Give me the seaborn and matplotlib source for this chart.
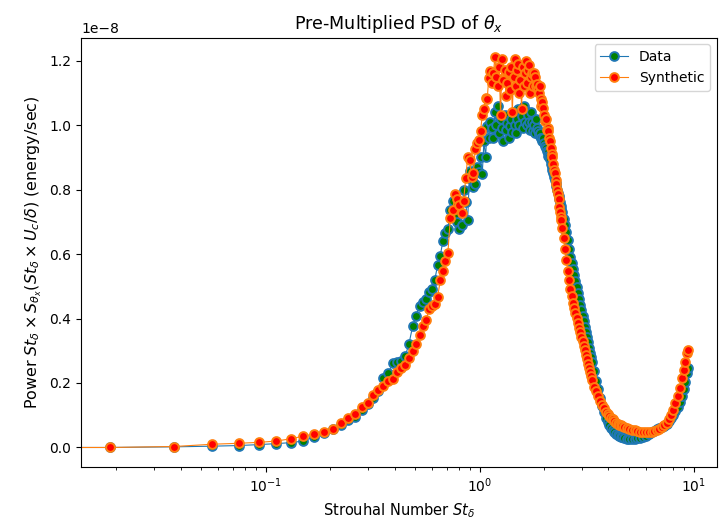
import numpy as np
import pandas as pd
import matplotlib
matplotlib.use("Agg")
import matplotlib.pyplot as plt
import seaborn as sns

# Strouhal numbers (frequency grid, subsampled at high St); first bin is St = 0
st = [0.0, 0.0187, 0.0374, 0.0561, 0.0748, 0.0935, 0.1122, 0.1309, 0.1496, 0.1683, 0.187,
      0.2057, 0.2244, 0.2431, 0.2618, 0.2805, 0.2992, 0.3179, 0.3366, 0.3553, 0.374,
      0.3927, 0.4114, 0.4301, 0.4488, 0.4675, 0.4862, 0.5049, 0.5236, 0.5423, 0.561,
      0.5797, 0.5984, 0.6171, 0.6358, 0.6545, 0.6732, 0.6919, 0.7106, 0.7293, 0.748,
      0.7667, 0.7854, 0.8041, 0.8228, 0.8415, 0.8602, 0.8789, 0.8976, 0.9163, 0.935,
      0.9537, 0.9724, 0.9911, 1.0098, 1.0285, 1.0472, 1.0659, 1.0846, 1.1033, 1.122,
      1.1407, 1.1594, 1.1781, 1.1968, 1.2155, 1.2342, 1.2529, 1.2716, 1.2903, 1.309,
      1.3277, 1.3464, 1.3651, 1.3838, 1.4025, 1.4212, 1.4399, 1.4586, 1.4773, 1.496,
      1.5147, 1.5334, 1.5521, 1.5708, 1.5895, 1.6082, 1.6269, 1.6456, 1.6643, 1.683,
      1.7017, 1.7204, 1.7391, 1.7578, 1.7765, 1.7952, 1.8139, 1.8326, 1.8513, 1.87,
      1.8887, 1.9074, 1.9261, 1.9448, 1.9635, 1.9822, 2.0009, 2.0196, 2.0383, 2.057,
      2.0757, 2.0944, 2.1131, 2.1318, 2.1505, 2.1692, 2.1879, 2.2066, 2.2253, 2.244,
      2.2627, 2.2814, 2.3001, 2.3188, 2.3375, 2.3562, 2.3749, 2.3936, 2.4123,
      2.431, 2.4684, 2.5058, 2.5432, 2.5806, 2.618, 2.6554, 2.6928, 2.7302, 2.7676,
      2.805, 2.8424, 2.8798, 2.9172, 2.9546, 2.992, 3.0294, 3.0668, 3.1042, 3.1416,
      3.179, 3.2164, 3.2538, 3.2912, 3.3286, 3.366,
      3.4408, 3.5156, 3.5904, 3.6652, 3.74, 3.8148, 3.8896, 3.9644, 4.0392, 4.114,
      4.1888, 4.2636, 4.3384, 4.4132, 4.488, 4.5628, 4.6376, 4.7124,
      4.862, 5.0116, 5.1612, 5.3108, 5.4604, 5.61,
      5.797, 5.984, 6.171, 6.358, 6.545, 6.732, 6.919, 7.106, 7.293, 7.48,
      7.667, 7.854, 8.041, 8.228, 8.415, 8.602, 8.789, 8.976, 9.163, 9.35, 9.4248]

# Pre-multiplied PSD, Data (units of 1e-8)
data_psd = [0.000, 0.000, 0.002, 0.004, 0.006, 0.009, 0.012, 0.015, 0.020, 0.033, 0.046,
            0.056, 0.070, 0.084, 0.096, 0.115, 0.135, 0.155, 0.175, 0.215, 0.231,
            0.262, 0.264, 0.268, 0.283, 0.322, 0.376, 0.408, 0.440, 0.452, 0.461,
            0.482, 0.490, 0.520, 0.565, 0.595, 0.640, 0.665, 0.678, 0.735, 0.766,
            0.720, 0.700, 0.678, 0.690, 0.800, 0.760, 0.704, 0.858, 0.830, 0.809,
            0.817, 0.870, 0.853, 0.900, 0.848, 0.950, 0.900, 0.997, 0.960, 1.010,
            0.990, 0.960, 1.040, 1.000, 1.059, 0.975, 1.020, 0.992, 0.950, 1.030,
            0.985, 1.005, 0.960, 0.997, 1.020, 0.980, 1.040, 1.000, 0.975, 1.018,
            1.050, 1.000, 1.044, 1.028, 0.990, 1.060, 1.010, 1.044, 1.000, 1.030,
            1.008, 0.985, 1.040, 1.010, 0.982, 1.000, 0.975, 1.020, 0.990, 0.982,
            0.970, 0.975, 0.961, 0.960, 0.950, 0.961, 0.945, 0.936, 0.930, 0.920,
            0.915, 0.905, 0.900, 0.895, 0.880, 0.870, 0.860, 0.850, 0.840, 0.830,
            0.820, 0.810, 0.800, 0.790, 0.780, 0.770, 0.760, 0.750, 0.740,
            0.730, 0.710, 0.691, 0.669, 0.642, 0.616, 0.592, 0.572, 0.553, 0.534,
            0.516, 0.498, 0.480, 0.462, 0.443, 0.426, 0.408, 0.391, 0.375, 0.359,
            0.342, 0.326, 0.310, 0.294, 0.280, 0.266,
            0.237, 0.207, 0.181, 0.155, 0.130, 0.109, 0.091, 0.080, 0.069, 0.061,
            0.054, 0.047, 0.043, 0.039, 0.036, 0.033, 0.031, 0.030,
            0.027, 0.026, 0.025, 0.026, 0.028, 0.030,
            0.034, 0.037, 0.042, 0.047, 0.052, 0.056, 0.060, 0.062, 0.066, 0.073,
            0.081, 0.090, 0.101, 0.113, 0.127, 0.142, 0.160, 0.180, 0.204, 0.230, 0.245]

# Pre-multiplied PSD, Synthetic (units of 1e-8)
synth_psd = [0.000, 0.000, 0.003, 0.010, 0.013, 0.016, 0.020, 0.027, 0.035, 0.042, 0.049,
             0.058, 0.076, 0.090, 0.103, 0.126, 0.138, 0.162, 0.178, 0.192, 0.205,
             0.212, 0.234, 0.246, 0.256, 0.278, 0.300, 0.322, 0.349, 0.376, 0.394,
             0.428, 0.440, 0.446, 0.466, 0.518, 0.548, 0.578, 0.604, 0.712, 0.735,
             0.786, 0.770, 0.752, 0.728, 0.765, 0.835, 0.900, 0.893, 0.840, 0.852,
             0.925, 0.945, 0.955, 0.982, 1.030, 1.049, 1.085, 1.080, 1.147, 1.168,
             1.130, 1.160, 1.211, 1.150, 1.120, 1.180, 1.030, 1.204, 1.140, 1.170,
             1.090, 1.130, 1.165, 1.110, 1.180, 1.040, 1.150, 1.204, 1.120, 1.170,
             1.190, 1.100, 1.140, 1.050, 1.180, 1.120, 1.160, 1.200, 1.130, 1.170,
             1.185, 1.100, 1.150, 1.160, 1.120, 1.160, 1.150, 1.120, 1.126, 1.110,
             1.100, 1.120, 1.060, 1.080, 1.070, 1.054, 1.030, 1.013, 1.020, 0.985,
             0.990, 0.982, 0.960, 0.951, 0.930, 0.910, 0.900, 0.879, 0.860, 0.850,
             0.830, 0.817, 0.800, 0.786, 0.770, 0.745, 0.729, 0.715, 0.704,
             0.682, 0.649, 0.616, 0.582, 0.548, 0.518, 0.491, 0.470, 0.449, 0.433,
             0.417, 0.402, 0.387, 0.372, 0.358, 0.343, 0.329, 0.315, 0.301, 0.287,
             0.274, 0.260, 0.247, 0.234, 0.221, 0.209,
             0.189, 0.174, 0.159, 0.145, 0.133, 0.122, 0.111, 0.103, 0.098, 0.092,
             0.087, 0.082, 0.077, 0.074, 0.071, 0.069, 0.066, 0.064,
             0.059, 0.057, 0.055, 0.053, 0.051, 0.049,
             0.049, 0.048, 0.048, 0.049, 0.051, 0.054, 0.058, 0.063, 0.069, 0.075,
             0.088, 0.102, 0.116, 0.138, 0.159, 0.186, 0.216, 0.241, 0.265, 0.292, 0.302]

series_labels = ["Data", "Synthetic"]
scale = 1e-8

df_data = pd.DataFrame({"St": st, "P": np.array(data_psd) * scale})
df_syn = pd.DataFrame({"St": st, "P": np.array(synth_psd) * scale})

fig = plt.figure(figsize=(7.27, 5.29), dpi=100)
ax = fig.add_axes([81 / 727, 62 / 529, 636 / 727, 429.5 / 529])

sns.lineplot(data=df_data, x="St", y="P", ax=ax, label=series_labels[0],
             color="#1f77b4", linewidth=0.8, marker="o", markersize=6.3,
             markerfacecolor="green", markeredgecolor="#1f77b4",
             markeredgewidth=1.4, errorbar=None, sort=False)
sns.lineplot(data=df_syn, x="St", y="P", ax=ax, label=series_labels[1],
             color="#ff7f0e", linewidth=0.8, marker="o", markersize=6.3,
             markerfacecolor="red", markeredgecolor="#ff7f0e",
             markeredgewidth=1.4, errorbar=None, sort=False)

ax.set_xscale("log")
ax.autoscale_view()
ax.set_title(r"Pre-Multiplied PSD of $\theta_x$", fontsize=12.6)
ax.set_xlabel(r"Strouhal Number $St_\delta$", fontsize=10.5)
ax.set_ylabel(r"Power $St_\delta \times S_{\theta_x}(St_\delta \times U_c/\delta)$ (energy/sec)",
              fontsize=11.4)
ax.legend(loc="upper right", fontsize=10)

fig.savefig("out.png", dpi=100)
